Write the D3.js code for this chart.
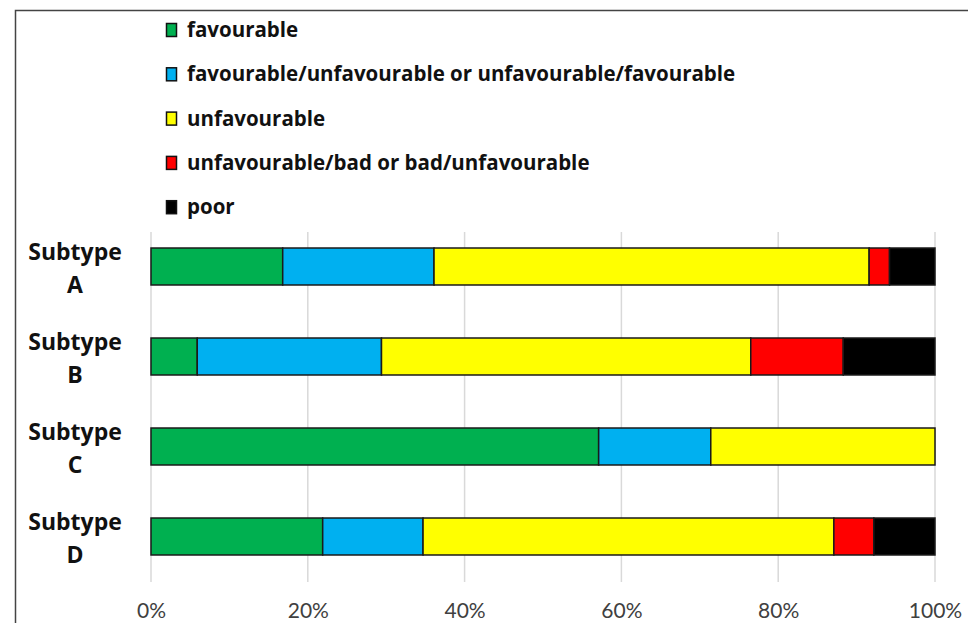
<!DOCTYPE html>
<html>
<head>
<meta charset="utf-8">
<script src="https://cdn.jsdelivr.net/npm/d3@7"></script>
<style>
    html, body { margin: 0; padding: 0; background: #fff; }
    svg { display: block; }
</style>
</head>
<body>
<svg id="chart"></svg>
<script>
const subtypes = ['A', 'B', 'C', 'D'];
const seriesNames = [
    'favourable',
    'favourable/unfavourable or unfavourable/favourable',
    'unfavourable',
    'unfavourable/bad or bad/unfavourable',
    'poor'
];
const seriesColors = ['#00b050', '#00b0f0', '#ffff00', '#ff0000', '#000000'];
// percentages per subtype, in series order
const valuesA = [16.8, 19.3, 55.5, 2.6, 5.8];
const valuesB = [5.9, 23.5, 47.1, 11.8, 11.7];
const valuesC = [57.1, 14.3, 28.6, 0, 0];
const valuesD = [21.9, 12.8, 52.4, 5.1, 7.8];
const tickValues = [0, 20, 40, 60, 80, 100];

const WIDTH = 968;
const HEIGHT = 623;
const FONT = 'Lato, "Open Sans", sans-serif';
const BOLD_FONT = '"Open Sans", Lato, sans-serif';

const svg = d3.select('#chart').attr('width', WIDTH).attr('height', HEIGHT);

// frame
svg.append('rect')
    .attr('x', 15.5).attr('y', 10.5)
    .attr('width', WIDTH + 20).attr('height', HEIGHT + 20)
    .attr('fill', 'none')
    .attr('stroke', '#444')
    .attr('stroke-width', 1.5);

const x = d3.scaleLinear().domain([0, 100]).range([151, 935]);
const y = d3.scaleBand().domain(subtypes).range([221.5, 581.5]).paddingInner(0.589).paddingOuter(0.2945);

// grid
svg.append('g').selectAll('line')
    .data(tickValues)
    .join('line')
    .attr('x1', d => x(d)).attr('x2', d => x(d))
    .attr('y1', 232).attr('y2', 582)
    .attr('stroke', '#d9d9d9')
    .attr('stroke-width', 1.5);

// x axis labels
const axis = svg.append('g')
    .attr('transform', 'translate(0,600)')
    .call(d3.axisBottom(x).tickValues(tickValues).tickSize(0).tickFormat(d => d + '%'));
axis.select('.domain').remove();
axis.selectAll('text')
    .attr('font-family', FONT)
    .attr('font-size', 21)
    .attr('fill', '#404040');

// stacked bars
const rows = [valuesA, valuesB, valuesC, valuesD].map((vals, i) => {
    const row = { subtype: subtypes[i] };
    seriesNames.forEach((s, j) => row[s] = vals[j]);
    return row;
});
const stacked = d3.stack().keys(seriesNames)(rows);

svg.append('g').selectAll('g')
    .data(stacked)
    .join('g')
    .attr('fill', (d, i) => seriesColors[i])
    .selectAll('rect')
    .data(d => d.filter(p => p[1] - p[0] > 0))
    .join('rect')
    .attr('x', d => x(d[0]))
    .attr('y', d => y(d.data.subtype))
    .attr('width', d => x(d[1]) - x(d[0]))
    .attr('height', y.bandwidth())
    .attr('stroke', '#1a1a1a')
    .attr('stroke-width', 1.5);

// y labels
subtypes.forEach(s => {
    const cy = y(s) + y.bandwidth() / 2;
    const t = svg.append('text')
        .attr('x', 75)
        .attr('text-anchor', 'middle')
        .attr('font-family', BOLD_FONT)
        .attr('font-weight', 'bold')
        .attr('font-size', 23)
        .attr('fill', '#111');
    t.append('tspan').attr('x', 75).attr('y', cy - 7).text('Subtype');
    t.append('tspan').attr('x', 75).attr('y', cy + 26).text(s);
});

// legend
const legend = svg.append('g').selectAll('g')
    .data(seriesNames)
    .join('g')
    .attr('transform', (d, i) => `translate(166,${30 + i * 44.3})`);
legend.append('rect')
    .attr('x', 0.5).attr('y', -6.5)
    .attr('width', 10).attr('height', 13)
    .attr('fill', (d, i) => seriesColors[i])
    .attr('stroke', '#111')
    .attr('stroke-width', 1.5);
legend.append('text')
    .attr('x', 21)
    .attr('y', 0)
    .attr('dy', '0.35em')
    .attr('font-family', BOLD_FONT)
    .attr('font-weight', 'bold')
    .attr('font-size', 20.5)
    .attr('fill', '#111')
    .text(d => d);
</script>
</body>
</html>
